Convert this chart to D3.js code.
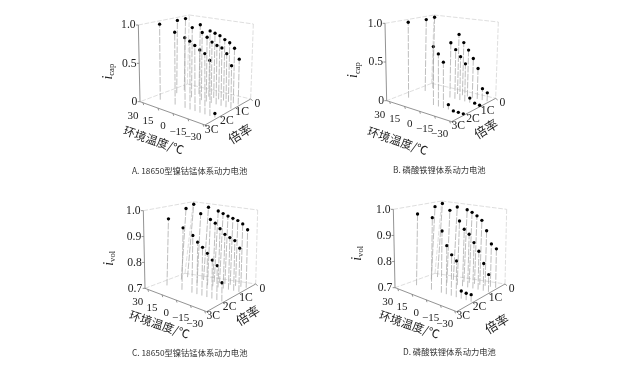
<!DOCTYPE html>
<html>
<head>
<meta charset="utf-8">
<script src="https://cdn.jsdelivr.net/npm/d3@7"></script>
<style>
body { margin: 0; background: #fff; }
svg { display: block; filter: blur(0.35px); }
.tick-label { font-family: "Liberation Serif", serif; fill: #222; }
.cn-title { font-family: "Noto Sans CJK SC", sans-serif; fill: #222; }
.caption { font-family: "Noto Sans CJK SC", sans-serif; font-size: 8.3px; fill: #333; }
</style>
</head>
<body>
<svg id="chart" width="640" height="372"></svg>
<script>
// temperatures sampled, degC
const temps = [25, 10, 0, -5, -10, -15, -20, -25, -30];
const tempsLfp = [25, 0, -5, -10, -15, -20, -25, -30];

// discharge rates of the three rows
const ratesA = [2.22, 1.17, 0.69];
const ratesB = [2.07, 0.96, 0.45];
const ratesC = [1.95, 0.90, 0.45];
const ratesD = [1.98, 0.90, 0.45];

// i_cap
const valuesA = [
    [1.00, 0.94, 0.90, 0.87, 0.83, 0.79, 0.76, 0.69, 0.05],
    [1.00, 0.94, 0.90, 0.85, 0.80, 0.77, 0.75, 0.69, 0.55],
    [1.00, 0.95, 0.89, 0.87, 0.85, 0.81, 0.78, 0.72, 0.59]
];
const valuesB = [
    [1.00, 0.75, 0.67, 0.58, 0.06, 0.00, 0.00, 0.00],
    [0.99, 0.73, 0.65, 0.57, 0.49, 0.06, 0.01, 0.00],
    [1.00, 0.81, 0.71, 0.62, 0.52, 0.40, 0.15, 0.11]
];
// i_vol
const valuesC = [
    [0.963, 0.942, 0.922, 0.901, 0.886, 0.868, 0.847, 0.831, 0.771],
    [0.989, 0.979, 0.963, 0.952, 0.934, 0.915, 0.906, 0.898, 0.872],
    [1.000, 0.997, 0.988, 0.981, 0.974, 0.968, 0.962, 0.952, 0.932]
];
const valuesD = [
    [0.978, 0.978, 0.936, 0.885, 0.855, 0.837, 0.729, 0.726, 0.726],
    [0.993, 0.989, 0.954, 0.925, 0.909, 0.880, 0.850, 0.806, 0.767],
    [1.000, 0.995, 0.990, 0.983, 0.972, 0.957, 0.919, 0.870, 0.854]
];

const tempTicks = [30, 15, 0, -15, -30];
const rateTicks = [3, 2, 1, 0];
const rateTickLabels = ["3C", "2C", "1C", "0"];
const capTicks = [0, 0.5, 1.0];
const capTickLabels = ["0", "0.5", "1.0"];
const volTicks = [0.7, 0.8, 0.9, 1.0];
const volTickLabels = ["0.7", "0.8", "0.9", "1.0"];

var svg = d3.select("#chart");
var tempScale = d3.scaleLinear().domain([33, -32]).range([0, 1]);
var rateScale = d3.scaleLinear().domain([3, 0]).range([0, 1]);

// box corners and label spots are in 3x crop pixels, hence the scale() below
var panels = [
    { ox: 90, oy: 0, t: temps, rates: ratesA, vals: valuesA, zDomain: [0, 1], zTicks: capTicks, zLabels: capTickLabels, sub: "cap",
      L: [150, 305], F: [345, 375], R: [482, 297], B: [292, 252], tL: [145, 75], tF: [342, 125], tR: [490, 72], tB: [298, 45],
      iPos: [65, 215], tempTitle: [190, 424], rateTitle: [452, 405],
      caption: "A. 18650型镍钴锰体系动力电池", capX: 132, capY: 174 },
    { ox: 340, oy: 0, t: tempsLfp, rates: ratesB, vals: valuesB, zDomain: [0, 1], zTicks: capTicks, zLabels: capTickLabels, sub: "cap",
      L: [140, 302], F: [335, 365], R: [467, 295], B: [275, 250], tL: [135, 70], tF: [332, 115], tR: [475, 66], tB: [282, 45],
      iPos: [52, 210], tempTitle: [172, 426], rateTitle: [440, 390],
      caption: "B. 磷酸铁锂体系动力电池", capX: 393, capY: 173 },
    { ox: 90, oy: 190, t: temps, rates: ratesC, vals: valuesC, zDomain: [0.7, 1], zTicks: volTicks, zLabels: volTickLabels, sub: "vol",
      L: [165, 295], F: [350, 365], R: [497, 282], B: [285, 250], tL: [160, 62], tF: [350, 120], tR: [503, 60], tB: [310, 35],
      iPos: [68, 205], tempTitle: [207, 407], rateTitle: [475, 380],
      caption: "C. 18650型镍钴锰体系动力电池", capX: 132, capY: 356 },
    { ox: 340, oy: 190, t: temps, rates: ratesD, vals: valuesD, zDomain: [0.7, 1], zTicks: volTicks, zLabels: volTickLabels, sub: "vol",
      L: [165, 293], F: [350, 365], R: [495, 282], B: [285, 250], tL: [160, 58], tF: [350, 115], tR: [500, 58], tB: [305, 33],
      iPos: [62, 190], tempTitle: [207, 407], rateTitle: [472, 405],
      caption: "D. 磷酸铁锂体系动力电池", capX: 403, capY: 355 }
];

function lerp(a, b, t) {
    return [a[0] + (b[0] - a[0]) * t, a[1] + (b[1] - a[1]) * t];
}

panels.forEach(drawPanel);

function drawPanel(p) {
    var g = svg.append("g").attr("transform", `translate(${p.ox},${p.oy}) scale(${1 / 3})`);
    var zScale = d3.scaleLinear().domain(p.zDomain).range([0, 1]);

    // box position: u along temperature, v along rate, z up
    function project(temp, rate, val) {
        var u = tempScale(temp), v = rateScale(rate), z = zScale(val);
        var floor = lerp(lerp(p.L, p.F, u), lerp(p.B, p.R, u), v);
        var top = lerp(lerp(p.tL, p.tF, u), lerp(p.tB, p.tR, u), v);
        return lerp(floor, top, z);
    }

    function edge(a, b, solid) {
        g.append("line")
            .attr("x1", a[0]).attr("y1", a[1]).attr("x2", b[0]).attr("y2", b[1])
            .attr("stroke", solid ? "#777" : "#c8c8c8")
            .attr("stroke-width", solid ? 2.4 : 1.8)
            .attr("stroke-dasharray", solid ? null : "14 5");
    }

    // back edges first
    edge(p.tL, p.tB); edge(p.tB, p.tR); edge(p.tR, p.R);
    edge(p.B, p.tB); edge(p.B, p.L); edge(p.B, p.R);
    edge(p.L, p.tL, true); edge(p.L, p.F, true); edge(p.F, p.R, true);

    var zMin = p.zDomain[0];

    tempTicks.forEach(function (d) {
        var a = project(d, 3, zMin);
        edge(a, [a[0] + 2, a[1] + 7], true);
        g.append("text").attr("class", "tick-label")
            .attr("x", a[0] - 30).attr("y", a[1] + 40)
            .style("font-size", "33px")
            .attr("text-anchor", "middle").attr("dominant-baseline", "middle")
            .text(d < 0 ? "\u2212" + (-d) : d);
    });

    rateTicks.forEach(function (d, i) {
        var a = project(-32, d, zMin);
        edge(a, [a[0] + 6, a[1] + 5], true);
        g.append("text").attr("class", "tick-label")
            .attr("x", a[0] + 20).attr("y", a[1] + 15)
            .style("font-size", "35px")
            .attr("text-anchor", "middle").attr("dominant-baseline", "middle")
            .text(rateTickLabels[i]);
    });

    p.zTicks.forEach(function (d, i) {
        var a = project(33, 3, d);
        edge(a, [a[0] - 7, a[1]], true);
        g.append("text").attr("class", "tick-label")
            .attr("x", a[0] - 8).attr("y", a[1] + 2)
            .style("font-size", "35px")
            .attr("text-anchor", "end").attr("dominant-baseline", "middle")
            .text(p.zLabels[i]);
    });

    // stems + points, one row per rate
    p.rates.forEach(function (rate, r) {
        p.t.forEach(function (temp, i) {
            var bottom = project(temp, rate, zMin);
            var top = project(temp, rate, p.vals[r][i]);
            g.append("line")
                .attr("x1", bottom[0]).attr("y1", bottom[1]).attr("x2", top[0]).attr("y2", top[1])
                .attr("stroke", "#a6a6a6").attr("stroke-width", 2.2)
                .attr("stroke-dasharray", "20 4");
            g.append("circle")
                .attr("cx", top[0]).attr("cy", top[1]).attr("r", 5)
                .attr("fill", "#000");
        });
    });

    var iLabel = g.append("text").attr("class", "tick-label")
        .attr("transform", `translate(${p.iPos[0]},${p.iPos[1]}) rotate(-90)`)
        .attr("text-anchor", "middle")
        .style("font-size", "42px");
    iLabel.append("tspan").attr("font-style", "italic").text("i");
    iLabel.append("tspan").attr("dy", 8).style("font-size", "26px").text(p.sub);

    g.append("text").attr("class", "cn-title")
        .attr("transform", `translate(${p.tempTitle[0]},${p.tempTitle[1]}) rotate(19)`)
        .attr("text-anchor", "middle").attr("dominant-baseline", "middle")
        .style("font-size", "35px")
        .text("环境温度/℃");

    g.append("text").attr("class", "cn-title")
        .attr("transform", `translate(${p.rateTitle[0]},${p.rateTitle[1]}) rotate(-32)`)
        .attr("text-anchor", "middle").attr("dominant-baseline", "middle")
        .style("font-size", "38px")
        .text("倍率");

    svg.append("text").attr("class", "caption")
        .attr("x", p.capX).attr("y", p.capY)
        .text(p.caption);
}
</script>
</body>
</html>
